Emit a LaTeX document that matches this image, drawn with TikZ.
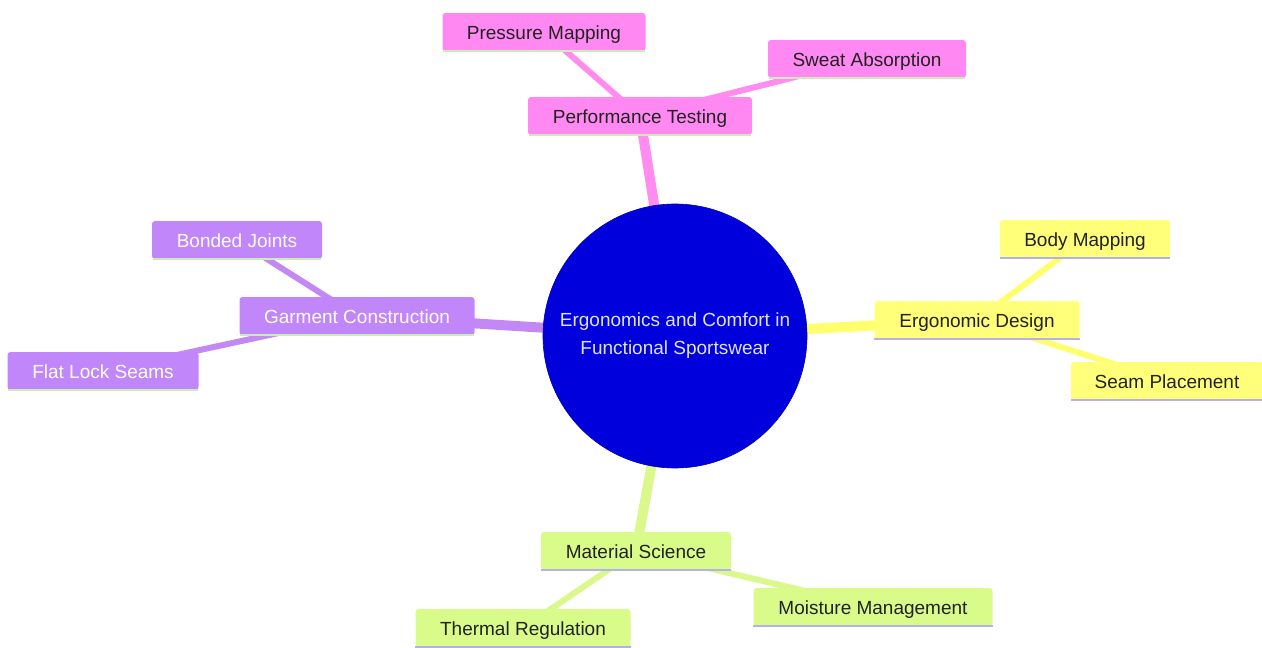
\documentclass[tikz,border=0pt]{standalone}
\usepackage{fontspec}
\setmainfont{Liberation Sans}
\usetikzlibrary{backgrounds}
\pgfdeclarelayer{bottom}
\pgfsetlayers{bottom,background,main}
\definecolor{pinkF}{HTML}{FF88F2}
\definecolor{purpleF}{HTML}{C186F9}
\definecolor{yellowF}{HTML}{FFFF7A}
\definecolor{greenF}{HTML}{D9FB8A}
\definecolor{pinkL}{HTML}{FF8CEE}
\definecolor{purpleL}{HTML}{C488F4}
\definecolor{yellowL}{HTML}{FFFF6E}
\definecolor{greenL}{HTML}{DAF88C}
\definecolor{rootF}{HTML}{0000DD}
\definecolor{rootT}{HTML}{E0E0FF}
\definecolor{lineG}{HTML}{C8EEB4}
\definecolor{lineV}{HTML}{B4B0EE}
\definecolor{darkT}{HTML}{222222}
\begin{document}
\begin{tikzpicture}[x=1pt,y=-1pt,
  box/.style={rectangle, rounded corners=3pt, minimum height=38pt, inner xsep=0pt,
    text height=14pt, text depth=0pt,
    font=\fontsize{19}{22}\selectfont, text=darkT},
  pinkbox/.style={box, fill=pinkF},
  purplebox/.style={box, fill=purpleF, text=white},
  yellowbox/.style={box, fill=yellowF},
  greenbox/.style={box, fill=greenF},
  mainedge/.style={line width=10pt},
  subedge/.style={line width=6pt},
  ubar/.style={line width=2.5pt}]
\useasboundingbox (0,0) rectangle (1262,648);
\begin{pgfonlayer}{bottom}
\fill[white] (0,0) rectangle (1262,648);
\end{pgfonlayer}

\node[circle, fill=rootF, draw=rootF!80!black, line width=0.6pt, minimum size=264pt, inner sep=0pt,
  align=center, text=rootT, font=\fontsize{19}{28}\selectfont] (root) at (675,336)
  {Ergonomics and Comfort in\\Functional Sportswear};

\node[pinkbox, minimum width=224pt] (perf) at (640,116) {Performance Testing};
\node[pinkbox, minimum width=203pt] (press) at (544,32) {Pressure Mapping};
\node[pinkbox, minimum width=198pt] (sweat) at (867,59) {Sweat Absorption};

\node[purplebox, minimum width=235pt] (garm) at (357,316) {Garment Construction};
\node[purplebox, minimum width=170pt] (bond) at (237,240) {Bonded Joints};
\node[purplebox, minimum width=191pt] (flat) at (103,371) {Flat Lock Seams};

\node[yellowbox, minimum width=205pt] (ergo) at (977,320) {Ergonomic Design};
\node[yellowbox, minimum width=170pt] (body) at (1085,239) {Body Mapping};
\node[yellowbox, minimum width=192pt] (seam) at (1167,381) {Seam Placement};

\node[greenbox, minimum width=190pt] (mat) at (636,551) {Material Science};
\node[greenbox, minimum width=215pt] (therm) at (523,628) {Thermal Regulation};
\node[greenbox, minimum width=239pt] (moist) at (873,607) {Moisture Management};

\foreach \n in {perf,press,sweat,garm,bond,flat}
  \draw[ubar, lineG] ([xshift=1pt]\n.south west) -- ([xshift=-1pt]\n.south east);
\foreach \n in {ergo,body,seam,mat,therm,moist}
  \draw[ubar, lineV] (\n.south west) -- (\n.south east);

\begin{scope}[on background layer]
  \draw[mainedge, pinkL] (root.center) -- (perf.center);
  \draw[subedge, pinkL] (perf.center) -- (press.center);
  \draw[subedge, pinkL] (perf.center) -- (sweat.center);
  \draw[mainedge, purpleL] (root.center) -- (garm.center);
  \draw[subedge, purpleL] (garm.center) -- (bond.center);
  \draw[subedge, purpleL] (garm.center) -- (flat.center);
  \draw[mainedge, yellowL] (root.center) -- (ergo.center);
  \draw[subedge, yellowL] (ergo.center) -- (body.center);
  \draw[subedge, yellowL] (ergo.center) -- (seam.center);
  \draw[mainedge, greenL] (root.center) -- (mat.center);
  \draw[subedge, greenL] (mat.center) -- (therm.center);
  \draw[subedge, greenL] (mat.center) -- (moist.center);
\end{scope}
\end{tikzpicture}
\end{document}
